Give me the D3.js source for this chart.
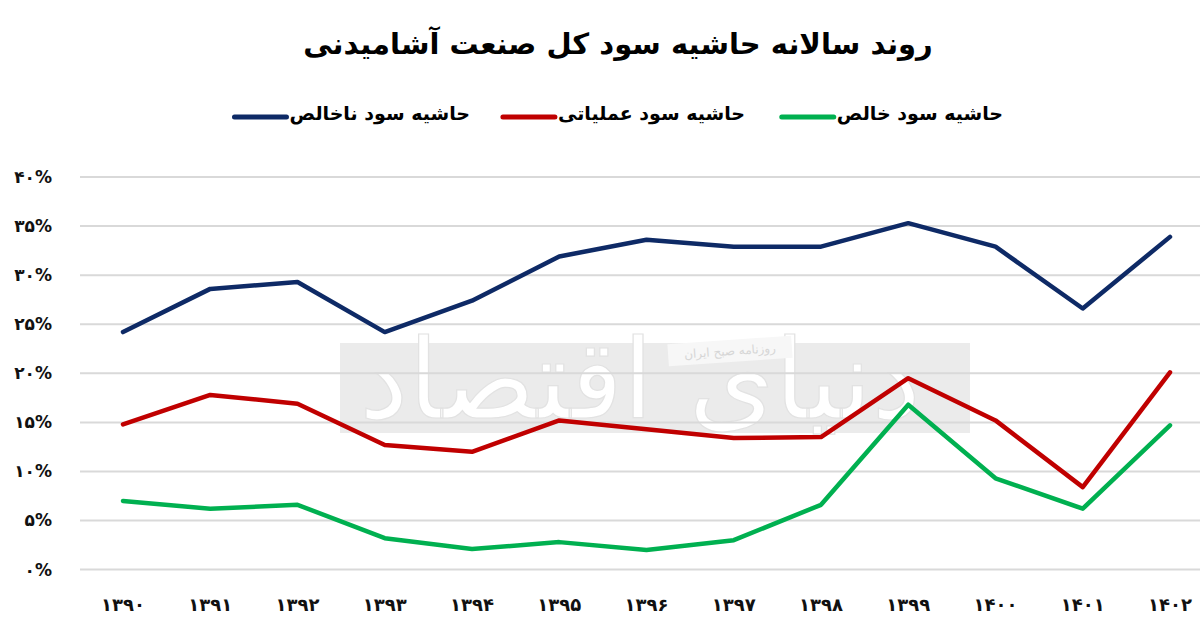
<!DOCTYPE html>
<html><head><meta charset="utf-8">
<script src="https://cdn.jsdelivr.net/npm/d3@7"></script>
<style>
html,body{margin:0;padding:0;background:#fff;}
svg{display:block;font-family:"DejaVu Sans","Noto Sans",sans-serif;}
</style></head>
<body><svg id="chart" width="1200" height="637"></svg>
<script>
const title = "روند سالانه حاشیه سود کل صنعت آشامیدنی";
const years = ["۱۳۹۰","۱۳۹۱","۱۳۹۲","۱۳۹۳","۱۳۹۴","۱۳۹۵","۱۳۹۶","۱۳۹۷","۱۳۹۸","۱۳۹۹","۱۴۰۰","۱۴۰۱","۱۴۰۲"];
const grossMargin = [24.2,28.6,29.3,24.2,27.4,31.9,33.6,32.9,32.9,35.3,32.9,26.6,33.9];
const operatingMargin = [14.8,17.8,16.9,12.7,12.0,15.2,14.3,13.4,13.5,19.5,15.2,8.4,20.1];
const netMargin = [7.0,6.2,6.6,3.2,2.1,2.8,2.0,3.0,6.6,16.8,9.3,6.2,14.7];
const seriesNames = ["حاشیه سود خالص","حاشیه سود عملیاتی","حاشیه سود ناخالص"];
const yTicks = [0,5,10,15,20,25,30,35,40];
const yTickLabels = ["۰%","۵%","۱۰%","۱۵%","۲۰%","۲۵%","۳۰%","۳۵%","۴۰%"];

const colors = ["#00b050","#c00000","#0e2a66"];
const series = [
  {name: seriesNames[0], values: netMargin, color: colors[0]},
  {name: seriesNames[1], values: operatingMargin, color: colors[1]},
  {name: seriesNames[2], values: grossMargin, color: colors[2]}
];

const svg = d3.select("#chart");
const x = d3.scalePoint().domain(years).range([123, 1170]);
const y = d3.scaleLinear().domain([0, 40]).range([569.6, 177]);

// watermark (behind)
const wm = svg.append("g");
wm.append("rect").attr("x", 340).attr("y", 343).attr("width", 630).attr("height", 90).attr("fill", "#ebebeb");
wm.append("text").attr("x", 640).attr("y", 418).attr("text-anchor", "middle")
  .attr("font-size", 110).attr("fill", "#fff").attr("stroke", "#e2e2e2").attr("stroke-width", 1.2)
  .text("دنیای اقتصاد");
wm.append("g").attr("transform", "translate(730,351) rotate(-4)")
  .call(g => {
    g.append("rect").attr("x", -62).attr("y", -11).attr("width", 124).attr("height", 22).attr("fill", "#f7f7f7");
    g.append("text").attr("text-anchor", "middle").attr("dy", "0.35em").attr("font-size", 12).attr("fill", "#d6d6d6").text("روزنامه صبح ایران");
  });

// gridlines
svg.append("g").selectAll("line").data(yTicks).join("line")
  .attr("x1", 80).attr("x2", 1200)
  .attr("y1", d => y(d)).attr("y2", d => y(d))
  .attr("stroke", "#d9d9d9").attr("stroke-width", 2);

// y labels
svg.append("g").selectAll("text").data(yTicks).join("text")
  .attr("x", 52).attr("y", d => y(d)).attr("dy", "0.35em")
  .attr("text-anchor", "end").attr("font-size", 17).attr("font-weight", "bold").attr("fill", "#111")
  .text((d, i) => yTickLabels[i]);

// x labels
svg.append("g").selectAll("text").data(years).join("text")
  .attr("x", d => x(d)).attr("y", 605).attr("dy", "0.35em")
  .attr("text-anchor", "middle").attr("font-size", 18).attr("font-weight", "bold").attr("fill", "#111")
  .text(d => d);

// lines
const line = d3.line().x((d, i) => x(years[i])).y(d => y(d));
svg.append("g").selectAll("path").data(series.slice().reverse()).join("path")
  .attr("d", d => line(d.values)).attr("fill", "none")
  .attr("stroke", d => d.color).attr("stroke-width", 4.5)
  .attr("stroke-linejoin", "round").attr("stroke-linecap", "round");

// title
svg.append("text").attr("x", 618).attr("y", 44).attr("dy", "0.35em")
  .attr("text-anchor", "middle").attr("font-size", 29).attr("font-weight", "bold").attr("fill", "#000")
  .text(title);

// legend (right to left)
const legendRight = [1003, 745, 470];
series.forEach((s, i) => {
  const t = svg.append("text").attr("x", legendRight[i]).attr("y", 113).attr("dy", "0.35em")
    .attr("text-anchor", "end").attr("font-size", 19).attr("font-weight", "bold").attr("fill", "#000")
    .text(s.name);
  const w = t.node().getComputedTextLength();
  const left = legendRight[i] - w - 3;
  svg.append("line").attr("x1", left - 52).attr("x2", left).attr("y1", 117).attr("y2", 117)
    .attr("stroke", s.color).attr("stroke-width", 5).attr("stroke-linecap", "round");
});
</script>
</body></html>
